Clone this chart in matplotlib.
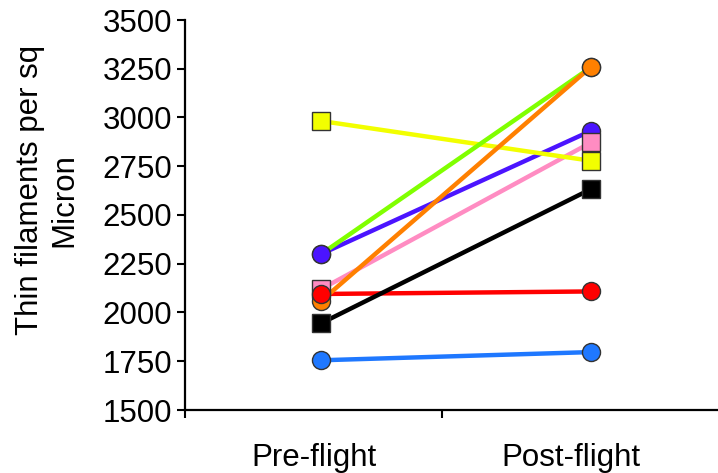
import matplotlib
matplotlib.use("Agg")
import matplotlib.pyplot as plt

plt.rcParams['font.family'] = ['Liberation Sans', 'DejaVu Sans']

# Two measurement occasions (category index positions along the x axis)
categories = ["Pre-flight", "Post-flight"]
category_centers = [0.5, 1.5]
point_x = [0.53, 1.58]

# One subject per series: (pre, post) thin filament density
series_names = ["blue", "red", "black", "purple", "pink", "yellow", "green", "orange"]
pre_values = {
    "blue": 1755, "red": 2095, "black": 1945, "purple": 2300,
    "pink": 2120, "yellow": 2982, "green": 2300, "orange": 2060,
}
post_values = {
    "blue": 1797, "red": 2108, "black": 2633, "purple": 2932,
    "pink": 2872, "yellow": 2778, "green": 3258, "orange": 3260,
}
colors = {
    "blue": "#1f78ff", "red": "#ff0000", "black": "#000000", "purple": "#4b14ff",
    "pink": "#ff8cc2", "yellow": "#f2ff00", "green": "#80ff00", "orange": "#ff8000",
}
markers = {
    "blue": "o", "red": "o", "black": "s", "purple": "o",
    "pink": "s", "yellow": "s", "green": "o", "orange": "o",
}
# stacking order of the markers (first is drawn lowest)
marker_order = ["green", "purple", "orange", "pink", "yellow", "red", "black", "blue"]

yticks = [1500, 1750, 2000, 2250, 2500, 2750, 3000, 3250, 3500]
FS = 22.5

fig = plt.figure(figsize=(7.18, 4.73), dpi=100)
ax = fig.add_axes([185 / 718, 1 - 410 / 473, 1 - 185 / 718, 390 / 473])

# connecting lines
for z, name in enumerate(series_names):
    ax.plot(point_x, [pre_values[name], post_values[name]], color=colors[name],
            lw=3.2, solid_capstyle="butt", zorder=2 + z * 0.1, clip_on=False)

# end-point markers
for z, name in enumerate(marker_order):
    ms = 13 if markers[name] == "o" else 12.5
    ax.plot(point_x, [pre_values[name], post_values[name]], linestyle="none",
            marker=markers[name], ms=ms, mfc=colors[name], mec="#333333",
            mew=1.0, zorder=4 + z * 0.1, clip_on=False)

ax.set_ylim(1500, 3500)
ax.set_xlim(0, (718 - 185) / 257)
ax.set_yticks(yticks)
ax.set_yticklabels([str(v) for v in yticks], fontsize=FS)

ax.set_xticks([0, 1])
ax.set_xticklabels(["", ""])
ax.set_xticks(category_centers, minor=True)
ax.set_xticklabels(categories, minor=True, fontsize=FS)
ax.tick_params(axis="x", which="minor", length=0, pad=24)
ax.tick_params(axis="x", which="major", length=6, width=1.5, direction="out")
ax.tick_params(axis="y", length=6, width=1.5, direction="out", pad=3)

for side in ("top", "right"):
    ax.spines[side].set_visible(False)
for side in ("left", "bottom"):
    ax.spines[side].set_linewidth(1.6)

fig.text(30 / 718, 1 - 190 / 473, "Thin filaments per sq", rotation=90,
         fontsize=FS, ha="center", va="center")
fig.text(64 / 718, 1 - 200 / 473, "Micron", rotation=90,
         fontsize=FS, ha="center", va="center")

fig.savefig("out.png", dpi=100)
